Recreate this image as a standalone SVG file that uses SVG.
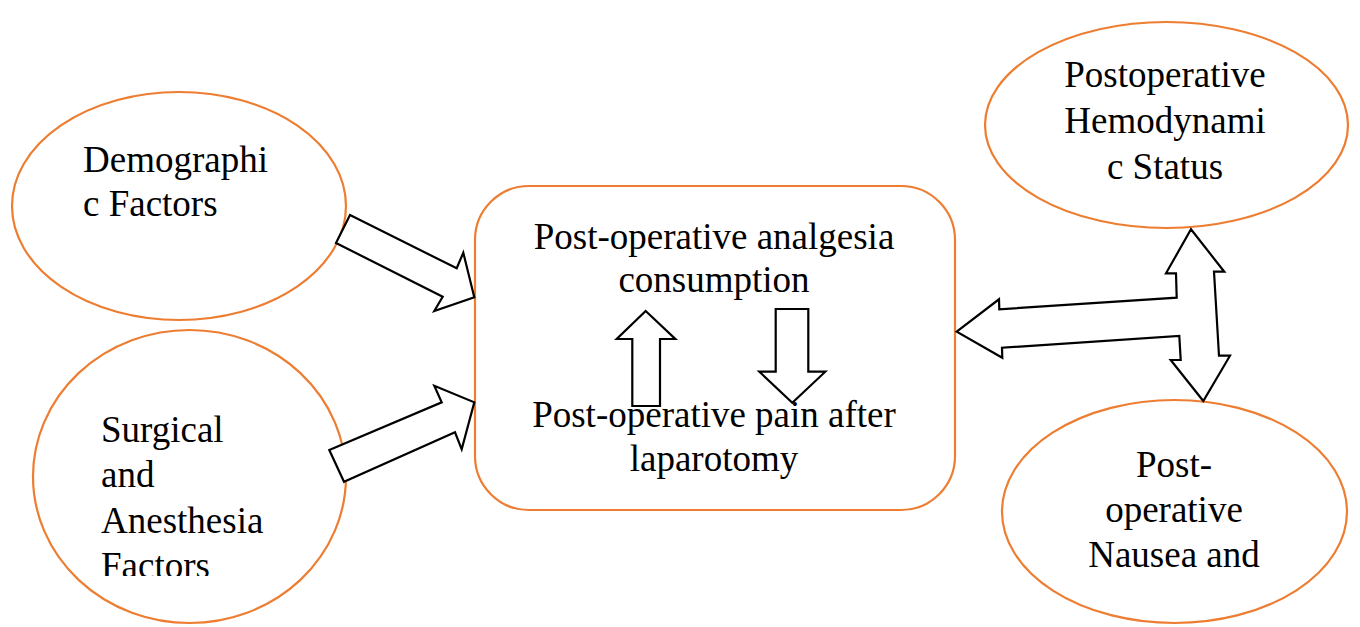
<svg xmlns="http://www.w3.org/2000/svg" width="1360" height="627" viewBox="0 0 1360 627">
<style>
.node{fill:#fff;stroke:#ED7D31;stroke-width:2.2}
.arrow{fill:#fff;stroke:#000;stroke-width:2.2;stroke-linejoin:miter}
text{font-family:"Liberation Serif","Times New Roman",serif;font-size:37px;fill:#000}
.c{text-anchor:middle}
</style>
<defs>
<clipPath id="clipSurg"><rect x="0" y="380" width="360" height="196"/></clipPath>
</defs>
<rect width="1360" height="627" fill="#fff"/>
<g id="demographic">
<ellipse class="node" cx="179" cy="206" rx="167" ry="114"/>
<text x="83" y="172">Demographi</text>
<text x="83" y="216">c Factors</text>
</g>
<g id="surgical">
<ellipse class="node" cx="189.5" cy="476.5" rx="156.5" ry="146.5"/>
<g clip-path="url(#clipSurg)">
<text x="101" y="442">Surgical</text>
<text x="101" y="487">and</text>
<text x="101" y="533">Anesthesia</text>
<text x="101" y="578">Factors</text>
</g>
</g>
<g id="hemodynamic">
<ellipse class="node" cx="1166.5" cy="125" rx="181.5" ry="103"/>
<text class="c" x="1165" y="87">Postoperative</text>
<text class="c" x="1165" y="133">Hemodynami</text>
<text class="c" x="1165" y="179">c Status</text>
</g>
<g id="nausea">
<ellipse class="node" cx="1174.5" cy="511.5" rx="172.5" ry="111.5"/>
<text class="c" x="1174" y="477">Post-</text>
<text class="c" x="1174" y="522">operative</text>
<text class="c" x="1174" y="567">Nausea and</text>
</g>
<g id="center">
<rect class="node" x="475" y="186" width="480" height="324" rx="54" ry="54"/>
<text class="c" x="714" y="249">Post-operative analgesia</text>
<text class="c" x="714" y="292">consumption</text>
<text class="c" x="714" y="427">Post-operative pain after</text>
<text class="c" x="714" y="471">laparotomy</text>
</g>
<g id="connectors">
<polygon class="arrow" points="350,215 456.7,268.3 463.3,252.7 474.3,297.3 434.3,311 442.7,296.7 336,243"/>
<polygon class="arrow" points="329.3,450 441.7,402.3 434.3,385.7 474.3,402.3 461.7,449.3 455,432.3 344,481.7"/>
<polygon class="arrow" points="956.7,331.7 999,299.3 999.3,309.3 1176.7,297.7 1176,273.3 1166,273.3 1191,229.3 1224.3,271.7 1214,271.7 1219,355.7 1230,355.7 1203.3,401 1170.7,360 1180.7,360 1179.3,336 1002,347.7 1002.3,357.7"/>
<polygon class="arrow" points="645.7,311 675.3,339 660,339 660,406 632.3,406 632.3,339 616.7,339"/>
<polygon class="arrow" points="775.7,309 808.3,309 808.3,371.7 825.3,371.7 792.3,402.7 759.3,371.7 775.7,371.7"/>
</g>
</svg>
